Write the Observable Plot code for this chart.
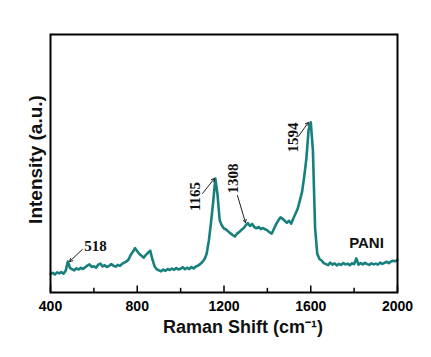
<!DOCTYPE html>
<html>
<head>
<meta charset="utf-8">
<script src="https://cdn.jsdelivr.net/npm/d3@7"></script>
<script src="https://cdn.jsdelivr.net/npm/@observablehq/plot@0.6"></script>
<style>
  html, body { margin: 0; padding: 0; background: #fff; }
</style>
</head>
<body>
<div id="chart"></div>
<script>
// Raman shift sample positions (cm^-1), every 10 from 400 to 2000
const shifts = d3.range(400, 2001, 10);
// Intensity (a.u.)
const intensity = [
  7.2, 7.6, 7.0, 7.8, 7.4, 7.9, 7.3, 8.4, 12.0, 9.5,
  9.0, 8.6, 9.4, 8.9, 9.6, 9.1, 9.8, 10.4, 10.9, 9.9,
  10.2, 9.6, 10.8, 11.2, 10.1, 10.6, 9.9, 10.3, 11.0, 10.4,
  10.0, 10.7, 10.3, 11.1, 11.6, 12.0, 12.8, 14.6, 15.8, 17.2,
  16.0, 14.9, 14.2, 13.5, 14.6, 15.4, 16.2, 12.8, 10.1, 9.0,
  8.6, 8.2, 8.9, 8.4, 9.1, 8.7, 9.3, 8.8, 9.5, 8.9,
  9.2, 9.8, 9.0, 9.6, 9.1, 9.9, 9.3, 10.1, 10.4, 11.0,
  11.8, 12.9, 15.0, 20.0, 27.0, 35.0, 44.2, 38.0, 28.0, 26.0,
  24.8, 24.4, 23.6, 22.9, 22.3, 21.7, 22.8, 23.4, 24.2, 24.9,
  26.0, 26.9, 25.8, 26.6, 25.3, 24.9, 25.4, 24.6, 25.0, 24.5,
  24.1, 23.3, 22.8, 24.6, 26.4, 27.9, 29.1, 28.6, 27.8, 27.0,
  27.8, 26.7, 28.8, 30.6, 32.5, 35.7, 39.0, 45.0, 52.0, 63.0,
  66.0, 55.0, 25.0, 15.0, 13.0, 12.4, 11.4, 11.0, 10.6, 11.6,
  10.8, 11.3, 10.5, 11.1, 10.7, 11.4, 10.9, 11.2, 10.6, 11.3,
  11.0, 13.2, 10.8, 11.4, 10.9, 11.5, 11.0, 10.7, 11.3, 10.9,
  11.2, 10.8, 11.6, 11.1, 11.5, 11.9, 11.4, 12.0, 12.3, 12.1,
  12.6
];
const spectrum = shifts.map((s, i) => ({shift: s, intensity: intensity[i]}));

const majorTicks = [400, 800, 1200, 1600, 2000];
const minorTicks = [600, 1000, 1400, 1800];

// Peak annotations: label position and arrow (from -> to), in data units
const peakLabels = ["518", "1165", "1308", "1594"];
const labelX = [607, 1068, 1244, 1520];
const labelY = [17.8, 37.2, 44.2, 60.1];
const labelRotate = [0, -90, -90, -90];
const arrowX1 = [547, 1101, 1262, 1543];
const arrowY1 = [16.7, 38.4, 37.6, 60.5];
const arrowX2 = [488, 1156, 1299, 1589];
const arrowY2 = [12.0, 44.2, 27.1, 65.9];
const peaks = peakLabels.map((t, i) => ({
  text: t, x: labelX[i], y: labelY[i], rotate: labelRotate[i],
  x1: arrowX1[i], y1: arrowY1[i], x2: arrowX2[i], y2: arrowY2[i]
}));

const sampleName = "PANI";
const sampleX = 1857, sampleY = 19;

const xTitle = "Raman Shift (cm\u207B\u00B9)";
const yTitle = "Intensity (a.u.)";

const chart = Plot.plot({
  width: 431,
  height: 357,
  marginLeft: 50,
  marginRight: 34,
  marginTop: 34,
  marginBottom: 65,
  style: {fontFamily: "'Liberation Sans', Arial, sans-serif", fontWeight: "bold", background: "#fff", overflow: "visible"},
  x: {domain: [400, 2000]},
  y: {domain: [0, 100], axis: null},
  marks: [
    Plot.line(spectrum, {x: "shift", y: "intensity", stroke: "#17807c", strokeWidth: 2.6, strokeLinejoin: "round"}),
    Plot.ruleX(majorTicks, {x: d => d, y1: 0, y2: 2.5, stroke: "#000", strokeWidth: 1.5}),
    Plot.ruleX(minorTicks, {x: d => d, y1: 0, y2: 1.6, stroke: "#000", strokeWidth: 1.5}),
    Plot.axisX({ticks: majorTicks, tickSize: 0, tickPadding: 9, label: null, fontSize: 14, fontWeight: "bold", tickFormat: d => String(d)}),
    Plot.frame({stroke: "#000", strokeWidth: 2}),
    Plot.arrow(peaks, {x1: "x1", y1: "y1", x2: "x2", y2: "y2", stroke: "#222", strokeWidth: 1, headLength: 5}),
    Plot.text(peaks, {x: "x", y: "y", text: "text", rotate: "rotate", fontFamily: "'Liberation Serif', 'Times New Roman', serif", fontWeight: "bold", fontSize: 15, fill: "#111"}),
    Plot.text([sampleName], {x: sampleX, y: sampleY, text: d => d, fontSize: 15, fontWeight: "bold", fill: "#111", letterSpacing: "0.5px"}),
    Plot.text([xTitle], {frameAnchor: "bottom", textAnchor: "middle", dx: 19, dy: 40, text: d => d, fontSize: 18, fontWeight: "bold", fill: "#111"}),
    Plot.text([yTitle], {frameAnchor: "left", textAnchor: "middle", dx: -15, dy: -4, rotate: -90, text: d => d, fontSize: 19, fontWeight: "bold", fill: "#111"})
  ]
});
document.getElementById("chart").appendChild(chart);
</script>
</body>
</html>
